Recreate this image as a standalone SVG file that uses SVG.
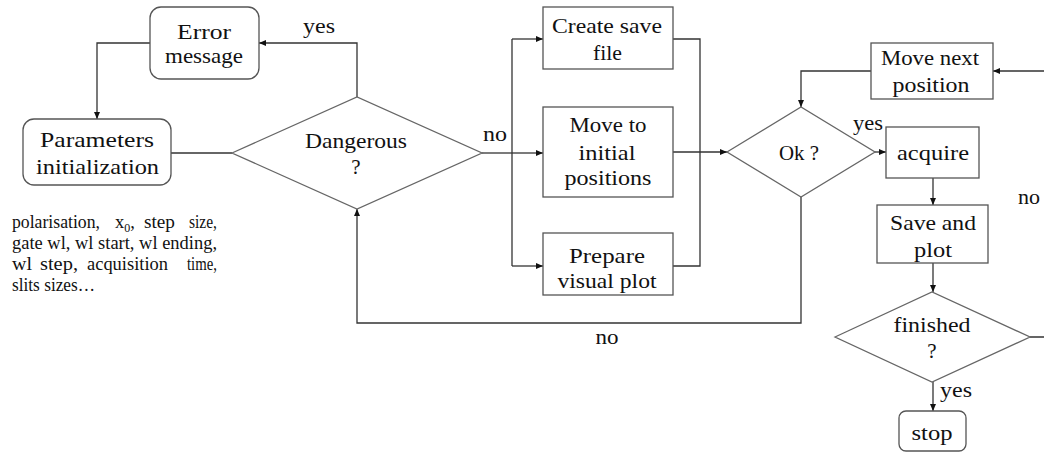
<svg xmlns="http://www.w3.org/2000/svg" width="1044" height="452" viewBox="0 0 1044 452">
<defs>
<marker id="arr" viewBox="0 0 7 6" refX="7" refY="3" markerWidth="7" markerHeight="6" markerUnits="userSpaceOnUse" orient="auto">
<path d="M0,0 L7,3 L0,6 z" fill="#111"/>
</marker>
<style>
.box{fill:#fff;stroke:#555;stroke-width:1.3}
.dia{fill:#fff;stroke:#666;stroke-width:1.3}
.c{fill:none;stroke:#333;stroke-width:1.3}
.ca{fill:none;stroke:#333;stroke-width:1.3;marker-end:url(#arr)}
text{font-family:"Liberation Serif","Times New Roman",serif;font-size:21px;fill:#111}
.m{text-anchor:middle}
.s{font-size:18.5px}
</style>
</defs>
<rect width="1044" height="452" fill="#fff"/>

<g id="connectors">
<path class="ca" d="M357 97 V43 H259"/>
<path class="ca" d="M150 43 H97 V119"/>
<path class="c" d="M171 153 H232"/>
<path class="c" d="M482 153 H512"/>
<path class="c" d="M512 39 V266"/>
<path class="ca" d="M512 39 H543"/>
<path class="ca" d="M512 153 H543"/>
<path class="ca" d="M512 266 H543"/>
<path class="c" d="M673 39 H700 V266 H673"/>
<path class="ca" d="M673 152 H727" style="stroke-width:1.6"/>
<path class="ca" d="M801 197 V323 H357 V209"/>
<path class="ca" d="M871 71 H801 V107"/>
<path class="ca" d="M875 152 H886"/>
<path class="ca" d="M933 178 V205"/>
<path class="ca" d="M933 263 V292"/>
<path class="ca" d="M933 382 V411"/>
<path class="ca" d="M1030 337 H1070 V71 H993"/>
<text class="m" x="319" y="33" textLength="32" lengthAdjust="spacingAndGlyphs">yes</text>
<text class="m" x="495" y="141" textLength="24" lengthAdjust="spacingAndGlyphs">no</text>
<text class="m" x="607" y="344" textLength="23" lengthAdjust="spacingAndGlyphs">no</text>
<text class="m" x="868" y="130" textLength="30" lengthAdjust="spacingAndGlyphs">yes</text>
<text class="m" x="1029" y="204" textLength="22" lengthAdjust="spacingAndGlyphs">no</text>
<text class="m" x="956" y="397" textLength="32" lengthAdjust="spacingAndGlyphs">yes</text>
</g>

<g id="error">
<rect class="box" x="150" y="7" width="109" height="72" rx="11"/>
<text class="m" x="204" y="39" textLength="54" lengthAdjust="spacingAndGlyphs">Error</text>
<text class="m" x="204" y="63" textLength="78" lengthAdjust="spacingAndGlyphs">message</text>
</g>

<g id="params">
<rect class="box" x="23" y="119" width="148" height="66" rx="11"/>
<text class="m" x="97" y="147" textLength="114" lengthAdjust="spacingAndGlyphs">Parameters</text>
<text class="m" x="97.5" y="174" textLength="123" lengthAdjust="spacingAndGlyphs">initialization</text>
</g>

<g id="param-list">
<text class="s" x="12" y="228" textLength="88" lengthAdjust="spacingAndGlyphs">polarisation,</text>
<text class="s" x="115" y="228">x<tspan font-size="12" dy="4">0</tspan><tspan dy="-4">,</tspan></text>
<text class="s" x="144" y="228" textLength="31" lengthAdjust="spacingAndGlyphs">step</text>
<text class="s" x="189" y="228" textLength="28" lengthAdjust="spacingAndGlyphs">size,</text>
<text class="s" x="12" y="249" textLength="205" lengthAdjust="spacingAndGlyphs">gate wl, wl start, wl ending,</text>
<text class="s" x="12" y="270" textLength="20" lengthAdjust="spacingAndGlyphs">wl</text>
<text class="s" x="40" y="270" textLength="38" lengthAdjust="spacingAndGlyphs">step,</text>
<text class="s" x="87" y="270" textLength="81" lengthAdjust="spacingAndGlyphs">acquisition</text>
<text class="s" x="187" y="270" textLength="30" lengthAdjust="spacingAndGlyphs">time,</text>
<text class="s" x="12" y="291" textLength="83" lengthAdjust="spacingAndGlyphs">slits sizes…</text>
</g>

<g id="dangerous">
<polygon class="dia" points="232,153 357,97 482,153 357,209"/>
<text class="m" x="356" y="148" textLength="102" lengthAdjust="spacingAndGlyphs">Dangerous</text>
<text class="m" x="356" y="174">?</text>
</g>

<g id="create-save">
<rect class="box" x="543" y="7" width="130" height="62"/>
<text class="m" x="607" y="33" textLength="110" lengthAdjust="spacingAndGlyphs">Create save</text>
<text class="m" x="607.5" y="60" textLength="29" lengthAdjust="spacingAndGlyphs">file</text>
</g>

<g id="move-initial">
<rect class="box" x="543" y="107" width="130" height="90"/>
<text class="m" x="608" y="132" textLength="77" lengthAdjust="spacingAndGlyphs">Move to</text>
<text class="m" x="607" y="160" textLength="57" lengthAdjust="spacingAndGlyphs">initial</text>
<text class="m" x="608" y="185" textLength="87" lengthAdjust="spacingAndGlyphs">positions</text>
</g>

<g id="prepare-plot">
<rect class="box" x="543" y="233" width="130" height="62"/>
<text class="m" x="607" y="263" textLength="76" lengthAdjust="spacingAndGlyphs">Prepare</text>
<text class="m" x="607" y="288" textLength="99" lengthAdjust="spacingAndGlyphs">visual plot</text>
</g>

<g id="ok">
<polygon class="dia" points="727,152 801,107 875,152 801,197"/>
<text class="m" x="799" y="160" textLength="40" lengthAdjust="spacingAndGlyphs">Ok ?</text>
</g>

<g id="move-next">
<rect class="box" x="871" y="43" width="122" height="56"/>
<text class="m" x="930" y="65" textLength="98" lengthAdjust="spacingAndGlyphs">Move next</text>
<text class="m" x="931" y="92" textLength="77" lengthAdjust="spacingAndGlyphs">position</text>
</g>

<g id="acquire">
<rect class="box" x="886" y="127" width="93" height="51"/>
<text class="m" x="933" y="160" textLength="72" lengthAdjust="spacingAndGlyphs">acquire</text>
</g>

<g id="save-plot">
<rect class="box" x="877" y="205" width="111" height="58"/>
<text class="m" x="933" y="230" textLength="86" lengthAdjust="spacingAndGlyphs">Save and</text>
<text class="m" x="933" y="257" textLength="38" lengthAdjust="spacingAndGlyphs">plot</text>
</g>

<g id="finished">
<polygon class="dia" points="835,337 932,292 1030,337 932,382"/>
<text class="m" x="932" y="332" textLength="77" lengthAdjust="spacingAndGlyphs">finished</text>
<text class="m" x="932" y="358">?</text>
</g>

<g id="stop">
<rect class="box" x="899" y="411" width="67" height="40" rx="7"/>
<text class="m" x="932" y="440" textLength="41" lengthAdjust="spacingAndGlyphs">stop</text>
</g>
</svg>
